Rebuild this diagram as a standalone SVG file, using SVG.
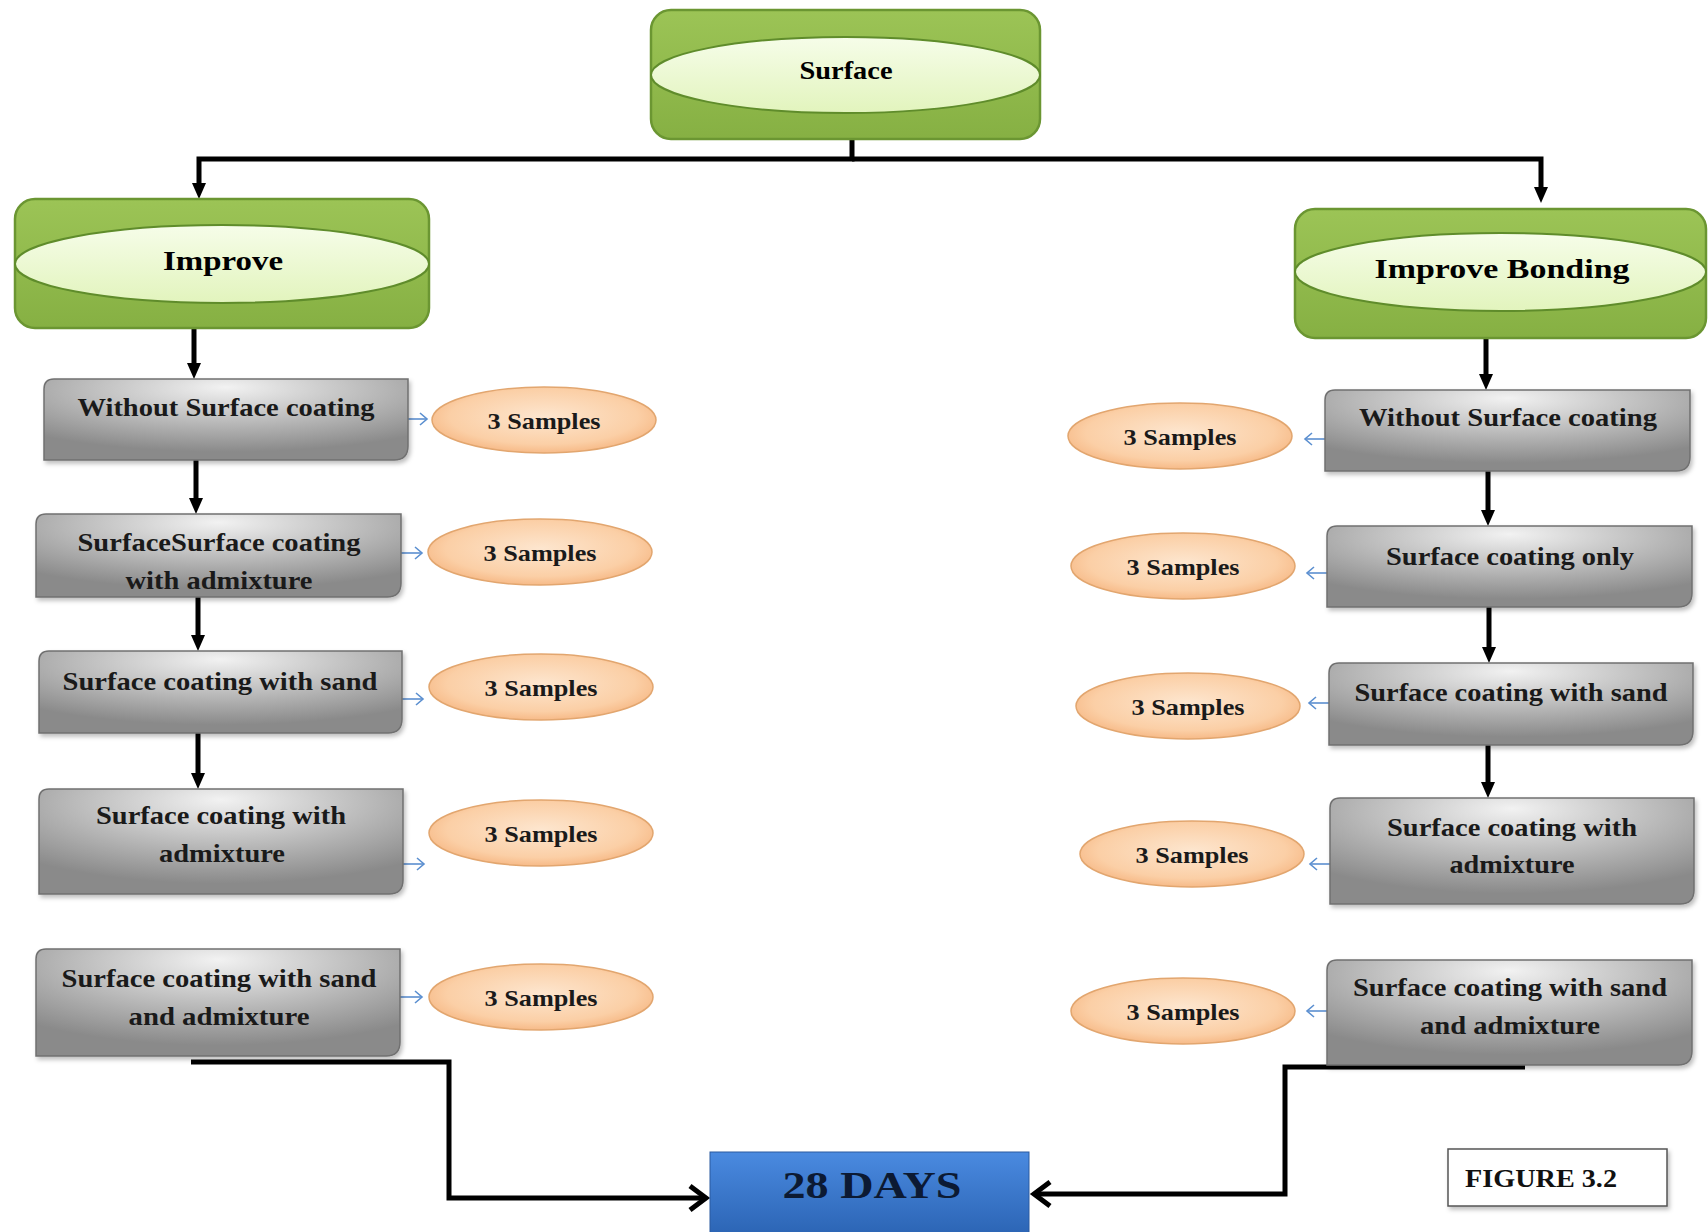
<svg xmlns="http://www.w3.org/2000/svg" width="1708" height="1232" viewBox="0 0 1708 1232">
<defs>
  <linearGradient id="gGreen" x1="0" y1="0" x2="0" y2="1">
    <stop offset="0" stop-color="#9cc456"/>
    <stop offset="1" stop-color="#86b043"/>
  </linearGradient>
  <linearGradient id="gEll" x1="0" y1="0" x2="0" y2="1">
    <stop offset="0" stop-color="#f6fde9"/>
    <stop offset="1" stop-color="#e2f4bd"/>
  </linearGradient>
  <radialGradient id="gGray" cx="0.5" cy="0.15" r="0.75" fx="0.5" fy="0.1">
    <stop offset="0" stop-color="#f2f2f2"/>
    <stop offset="0.55" stop-color="#b9b9b9"/>
    <stop offset="1" stop-color="#8a8a8a"/>
  </radialGradient>
  <radialGradient id="gOrange" cx="0.5" cy="0.45" r="0.6">
    <stop offset="0" stop-color="#fde6cf"/>
    <stop offset="0.7" stop-color="#fbcfa6"/>
    <stop offset="1" stop-color="#f5b27c"/>
  </radialGradient>
  <linearGradient id="gBlue" x1="0" y1="0" x2="0" y2="1">
    <stop offset="0" stop-color="#4a8ae0"/>
    <stop offset="1" stop-color="#2c65b5"/>
  </linearGradient>
  <marker id="mDown" markerUnits="userSpaceOnUse" markerWidth="20" markerHeight="20" refX="4" refY="8" orient="auto">
    <path d="M0,1 L16,8 L0,15 z" fill="#000"/>
  </marker>
  <marker id="mChev" markerUnits="userSpaceOnUse" markerWidth="26" markerHeight="32" refX="19" refY="15" orient="auto">
    <path d="M3,3 L19,15 L3,27" fill="none" stroke="#000" stroke-width="5"/>
  </marker>
  <marker id="mBlue" markerUnits="userSpaceOnUse" markerWidth="14" markerHeight="16" refX="9" refY="7" orient="auto">
    <path d="M2,1 L9,7 L2,13" fill="none" stroke="#5b8fd0" stroke-width="1.6"/>
  </marker>
  <filter id="shadow" x="-5%" y="-5%" width="115%" height="125%">
    <feDropShadow dx="2" dy="3" stdDeviation="2" flood-color="#000" flood-opacity="0.25"/>
  </filter>
</defs>
<style>
  .green { fill: url(#gGreen); stroke: #6b9632; stroke-width: 2.5; }
  .gell { fill: url(#gEll); stroke: #5f8c2b; stroke-width: 2; }
  .gray { fill: url(#gGray); stroke: #707070; stroke-width: 1.5; filter: url(#shadow); }
  .orange { fill: url(#gOrange); stroke: #e2a66f; stroke-width: 1.5; }
  .t { font-family: "Liberation Serif", "Times New Roman", serif; font-weight: bold; fill: #1a1a1a; text-anchor: middle; }
  .box { font-size: 26px; }
  .samp { font-size: 24px; }
  .head { font-size: 26px; fill: #000; }
  .blk { fill: none; stroke: #000; stroke-width: 5; }
  .blue { fill: none; stroke: #5b8fd0; stroke-width: 1.6; }
</style>

<g id="connectors">
  <path class="blk" d="M852,140 V159 H199 V187" marker-end="url(#mDown)"/>
  <path class="blk" d="M852,159 H1541 V191" marker-end="url(#mDown)"/>
  <path class="blk" d="M194,328 V367" marker-end="url(#mDown)"/>
  <path class="blk" d="M196,460 V502" marker-end="url(#mDown)"/>
  <path class="blk" d="M198,597 V639" marker-end="url(#mDown)"/>
  <path class="blk" d="M198,733 V777" marker-end="url(#mDown)"/>
  <path class="blk" d="M1486,339 V378" marker-end="url(#mDown)"/>
  <path class="blk" d="M1488,471 V514" marker-end="url(#mDown)"/>
  <path class="blk" d="M1489,607 V651" marker-end="url(#mDown)"/>
  <path class="blk" d="M1488,745 V786" marker-end="url(#mDown)"/>
  <path class="blk" d="M191,1062 H449 V1198 H706" marker-end="url(#mChev)"/>
  <path class="blk" d="M1525,1067 H1285 V1194 H1034" marker-end="url(#mChev)"/>
  <path class="blue" d="M408,419 H427" marker-end="url(#mBlue)"/>
  <path class="blue" d="M401,553 H422" marker-end="url(#mBlue)"/>
  <path class="blue" d="M402,699 H423" marker-end="url(#mBlue)"/>
  <path class="blue" d="M403,864 H424" marker-end="url(#mBlue)"/>
  <path class="blue" d="M400,997 H422" marker-end="url(#mBlue)"/>
  <path class="blue" d="M1325,439 H1305" marker-end="url(#mBlue)"/>
  <path class="blue" d="M1327,573 H1307" marker-end="url(#mBlue)"/>
  <path class="blue" d="M1329,703 H1309" marker-end="url(#mBlue)"/>
  <path class="blue" d="M1330,864 H1310" marker-end="url(#mBlue)"/>
  <path class="blue" d="M1327,1011 H1307" marker-end="url(#mBlue)"/>
</g>

<g id="surface">
  <rect class="green" x="651" y="10" width="389" height="129" rx="20"/>
  <ellipse class="gell" cx="845.5" cy="75" rx="194.5" ry="38"/>
  <text class="t head" x="846" y="79" textLength="93" lengthAdjust="spacingAndGlyphs">Surface</text>
</g>

<g id="improve">
  <rect class="green" x="15" y="199" width="414" height="129" rx="20"/>
  <ellipse class="gell" cx="222" cy="264" rx="207" ry="39"/>
  <text class="t head" x="223" y="270" textLength="120" lengthAdjust="spacingAndGlyphs" style="font-size:28px">Improve</text>
</g>

<g id="improve-bonding">
  <rect class="green" x="1295" y="209" width="411" height="129" rx="20"/>
  <ellipse class="gell" cx="1500.5" cy="272" rx="205.5" ry="39"/>
  <text class="t head" x="1502" y="278" textLength="255" lengthAdjust="spacingAndGlyphs" style="font-size:28px">Improve Bonding</text>
</g>

<g id="left-1">
  <path class="gray" d="M54,379 H408 V446 Q408,460 394,460 H44 V389 Q44,379 54,379 Z"/>
  <text class="t box" x="226" y="416" textLength="297" lengthAdjust="spacingAndGlyphs">Without Surface coating</text>
</g>
<g id="left-2">
  <path class="gray" d="M46,514 H401 V583 Q401,597 387,597 H36 V524 Q36,514 46,514 Z"/>
  <text class="t box" x="219" y="551" textLength="283" lengthAdjust="spacingAndGlyphs">SurfaceSurface coating</text>
  <text class="t box" x="219" y="589" textLength="187" lengthAdjust="spacingAndGlyphs">with admixture</text>
</g>
<g id="left-3">
  <path class="gray" d="M49,651 H402 V719 Q402,733 388,733 H39 V661 Q39,651 49,651 Z"/>
  <text class="t box" x="220" y="690" textLength="315" lengthAdjust="spacingAndGlyphs">Surface coating with sand</text>
</g>
<g id="left-4">
  <path class="gray" d="M49,789 H403 V880 Q403,894 389,894 H39 V799 Q39,789 49,789 Z"/>
  <text class="t box" x="221" y="824" textLength="250" lengthAdjust="spacingAndGlyphs">Surface coating with</text>
  <text class="t box" x="222" y="862" textLength="126" lengthAdjust="spacingAndGlyphs">admixture</text>
</g>
<g id="left-5">
  <path class="gray" d="M46,949 H400 V1042 Q400,1056 386,1056 H36 V959 Q36,949 46,949 Z"/>
  <text class="t box" x="219" y="987" textLength="315" lengthAdjust="spacingAndGlyphs">Surface coating with sand</text>
  <text class="t box" x="219" y="1025" textLength="181" lengthAdjust="spacingAndGlyphs">and admixture</text>
</g>

<g id="right-1">
  <path class="gray" d="M1335,390 H1690 V457 Q1690,471 1676,471 H1325 V400 Q1325,390 1335,390 Z"/>
  <text class="t box" x="1508" y="426" textLength="298" lengthAdjust="spacingAndGlyphs">Without Surface coating</text>
</g>
<g id="right-2">
  <path class="gray" d="M1337,526 H1692 V593 Q1692,607 1678,607 H1327 V536 Q1327,526 1337,526 Z"/>
  <text class="t box" x="1510" y="565" textLength="248" lengthAdjust="spacingAndGlyphs">Surface coating only</text>
</g>
<g id="right-3">
  <path class="gray" d="M1339,663 H1693 V731 Q1693,745 1679,745 H1329 V673 Q1329,663 1339,663 Z"/>
  <text class="t box" x="1511" y="701" textLength="313" lengthAdjust="spacingAndGlyphs">Surface coating with sand</text>
</g>
<g id="right-4">
  <path class="gray" d="M1340,798 H1694 V890 Q1694,904 1680,904 H1330 V808 Q1330,798 1340,798 Z"/>
  <text class="t box" x="1512" y="836" textLength="250" lengthAdjust="spacingAndGlyphs">Surface coating with</text>
  <text class="t box" x="1512" y="873" textLength="125" lengthAdjust="spacingAndGlyphs">admixture</text>
</g>
<g id="right-5">
  <path class="gray" d="M1337,960 H1692 V1051 Q1692,1065 1678,1065 H1327 V970 Q1327,960 1337,960 Z"/>
  <text class="t box" x="1510" y="996" textLength="314" lengthAdjust="spacingAndGlyphs">Surface coating with sand</text>
  <text class="t box" x="1510" y="1034" textLength="180" lengthAdjust="spacingAndGlyphs">and admixture</text>
</g>

<g id="samples-left-1"><ellipse class="orange" cx="544" cy="420" rx="112" ry="33"/><text class="t samp" x="544" y="429" textLength="113" lengthAdjust="spacingAndGlyphs">3 Samples</text></g>
<g id="samples-left-2"><ellipse class="orange" cx="540" cy="552" rx="112" ry="33"/><text class="t samp" x="540" y="561" textLength="113" lengthAdjust="spacingAndGlyphs">3 Samples</text></g>
<g id="samples-left-3"><ellipse class="orange" cx="541" cy="687" rx="112" ry="33"/><text class="t samp" x="541" y="696" textLength="113" lengthAdjust="spacingAndGlyphs">3 Samples</text></g>
<g id="samples-left-4"><ellipse class="orange" cx="541" cy="833" rx="112" ry="33"/><text class="t samp" x="541" y="842" textLength="113" lengthAdjust="spacingAndGlyphs">3 Samples</text></g>
<g id="samples-left-5"><ellipse class="orange" cx="541" cy="997" rx="112" ry="33"/><text class="t samp" x="541" y="1006" textLength="113" lengthAdjust="spacingAndGlyphs">3 Samples</text></g>
<g id="samples-right-1"><ellipse class="orange" cx="1180" cy="436" rx="112" ry="33"/><text class="t samp" x="1180" y="445" textLength="113" lengthAdjust="spacingAndGlyphs">3 Samples</text></g>
<g id="samples-right-2"><ellipse class="orange" cx="1183" cy="566" rx="112" ry="33"/><text class="t samp" x="1183" y="575" textLength="113" lengthAdjust="spacingAndGlyphs">3 Samples</text></g>
<g id="samples-right-3"><ellipse class="orange" cx="1188" cy="706" rx="112" ry="33"/><text class="t samp" x="1188" y="715" textLength="113" lengthAdjust="spacingAndGlyphs">3 Samples</text></g>
<g id="samples-right-4"><ellipse class="orange" cx="1192" cy="854" rx="112" ry="33"/><text class="t samp" x="1192" y="863" textLength="113" lengthAdjust="spacingAndGlyphs">3 Samples</text></g>
<g id="samples-right-5"><ellipse class="orange" cx="1183" cy="1011" rx="112" ry="33"/><text class="t samp" x="1183" y="1020" textLength="113" lengthAdjust="spacingAndGlyphs">3 Samples</text></g>

<g id="days">
  <rect x="710" y="1152" width="319" height="82" fill="url(#gBlue)" stroke="#2a5aa0" stroke-width="1"/>
  <text class="t" x="872" y="1198" style="font-size:38px;fill:#0c1a33" textLength="179" lengthAdjust="spacingAndGlyphs">28 DAYS</text>
</g>

<g id="figure-label">
  <rect x="1448" y="1149" width="219" height="57" fill="#fff" stroke="#555" stroke-width="1.5" filter="url(#shadow)"/>
  <text class="t" x="1541" y="1187" style="font-size:26px;fill:#111" textLength="152" lengthAdjust="spacingAndGlyphs">FIGURE 3.2</text>
</g>
</svg>
